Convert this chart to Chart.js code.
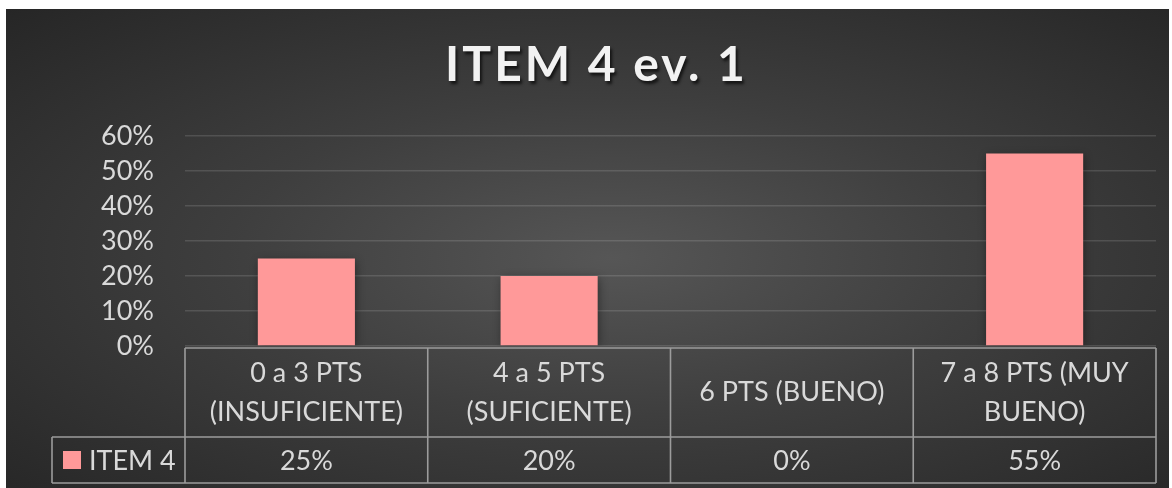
<!DOCTYPE html>
<html>
<head>
<meta charset="utf-8">
<script src="https://cdn.jsdelivr.net/npm/chart.js@4.4.1/dist/chart.umd.min.js"></script>
<style>
  html, body { margin: 0; padding: 0; background: #ffffff; }
  #wrap {
    position: absolute; left: 6px; top: 9px; width: 1163px; height: 479px;
    background: radial-gradient(ellipse farthest-corner at 52% 52%, #565656 0%, #3e3e3e 45%, #262626 100%);
  }
  canvas { display: block; }
</style>
</head>
<body>
<div id="wrap"><canvas id="c"></canvas></div>
<script>
const chartTitle = "ITEM 4 ev. 1";
const categories = [
  ["0 a 3 PTS", "(INSUFICIENTE)"],
  ["4 a 5 PTS", "(SUFICIENTE)"],
  ["6 PTS (BUENO)"],
  ["7 a 8 PTS (MUY", "BUENO)"]
];
const seriesName = "ITEM 4";
const seriesValues = [0.25, 0.20, 0, 0.55];
const yTickValues = [0, 0.1, 0.2, 0.3, 0.4, 0.5, 0.6];

const FONT = "Lato, 'Open Sans', sans-serif";
const TEXT = "#d9d9d9";
const BAR = "#FF9999";
const pct = v => Math.round(v * 100) + "%";

const barShadow = {
  id: "barShadow",
  beforeDatasetsDraw(chart) {
    const ctx = chart.ctx;
    ctx.save();
    ctx.shadowColor = "rgba(0,0,0,0.45)";
    ctx.shadowBlur = 9;
    ctx.shadowOffsetX = 1;
    ctx.shadowOffsetY = 2;
  },
  afterDatasetsDraw(chart) { chart.ctx.restore(); }
};

const titleAndTable = {
  id: "titleAndTable",
  afterDraw(chart) {
    const ctx = chart.ctx;
    const xs = chart.scales.x;
    const area = chart.chartArea;
    // title
    ctx.save();
    ctx.font = "bold 48px " + FONT;
    if ('letterSpacing' in ctx) ctx.letterSpacing = "3px";
    ctx.textAlign = "center";
    ctx.textBaseline = "middle";
    ctx.shadowColor = "rgba(0,0,0,0.65)";
    ctx.shadowBlur = 3;
    ctx.shadowOffsetX = 2;
    ctx.shadowOffsetY = 3;
    ctx.fillStyle = "#f2f2f2";
    ctx.fillText(chartTitle, chart.width / 2 + 9, 57);
    ctx.restore();

    // data table
    const n = categories.length;
    const step = xs.getPixelForValue(1) - xs.getPixelForValue(0);
    const colL = i => xs.getPixelForValue(i) - step / 2;
    const left = colL(0), right = colL(n);
    const top = area.bottom + 2;
    const mid = top + 89;
    const bottom = mid + 46;
    const legL = 46;

    ctx.save();
    ctx.strokeStyle = "#9c9c9c";
    ctx.lineWidth = 1.6;
    ctx.beginPath();
    ctx.moveTo(left, top); ctx.lineTo(right, top);
    ctx.moveTo(legL, mid); ctx.lineTo(right, mid);
    ctx.moveTo(legL, bottom); ctx.lineTo(right, bottom);
    for (let i = 0; i <= n; i++) {
      ctx.moveTo(colL(i), top); ctx.lineTo(colL(i), bottom);
    }
    ctx.moveTo(legL, mid); ctx.lineTo(legL, bottom);
    ctx.stroke();

    ctx.fillStyle = TEXT;
    ctx.font = "27px " + FONT;
    ctx.textAlign = "center";
    ctx.textBaseline = "middle";
    const lh = 39;
    const headMid = (top + mid) / 2;
    categories.forEach((lines, i) => {
      const cx = xs.getPixelForValue(i);
      const y0 = headMid - (lines.length - 1) * lh / 2;
      lines.forEach((t, k) => ctx.fillText(t, cx, y0 + k * lh));
      ctx.fillText(pct(seriesValues[i]), cx, (mid + bottom) / 2 + 1);
    });
    // legend key
    const rowMid = (mid + bottom) / 2;
    ctx.fillStyle = BAR;
    ctx.fillRect(57, rowMid - 9, 18, 18);
    ctx.fillStyle = TEXT;
    ctx.textAlign = "left";
    ctx.fillText(seriesName, 83, rowMid + 1);
    ctx.restore();
  }
};

new Chart(document.getElementById("c"), {
  type: "bar",
  data: {
    labels: categories,
    datasets: [{
      label: seriesName,
      data: seriesValues,
      backgroundColor: BAR,
      borderWidth: 0,
      barPercentage: 0.4,
      categoryPercentage: 1.0
    }]
  },
  options: {
    responsive: true,
    maintainAspectRatio: false,
    animation: false,
    events: [],
    layout: { padding: { top: 127, bottom: 142, left: 0, right: 13 } },
    plugins: { legend: { display: false }, title: { display: false }, tooltip: { enabled: false } },
    scales: {
      x: { display: false, offset: true },
      y: {
        min: 0, max: 0.6,
        afterFit(scale) { scale.width = 179; },
        afterBuildTicks(scale) { scale.ticks = yTickValues.map(v => ({ value: v })); },
        border: { display: false },
        grid: { color: "rgba(255,255,255,0.13)", lineWidth: 1.5, drawTicks: false },
        ticks: {
          autoSkip: false,
          padding: 31,
          color: TEXT,
          font: { family: FONT, size: 27 },
          callback: v => pct(v)
        }
      }
    }
  },
  plugins: [barShadow, titleAndTable]
});
</script>
</body>
</html>
